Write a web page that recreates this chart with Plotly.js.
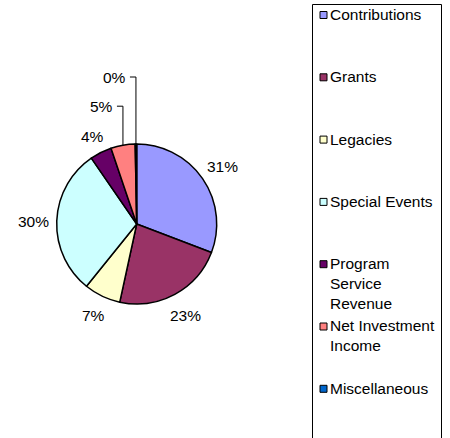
<!DOCTYPE html>
<html>
<head>
<meta charset="utf-8">
<script src="https://cdn.plot.ly/plotly-3.0.1.min.js"></script>
<style>html,body{margin:0;padding:0;background:#fff;}#chart{width:450px;height:438px;}</style>
</head>
<body>
<div id="chart"></div>
<script>
// ---- data ----
const labels = ['Contributions', 'Grants', 'Legacies', 'Special Events', 'Program Service Revenue', 'Net Investment Income', 'Miscellaneous'];
const values = [30.8, 22.6, 7.4, 29.6, 4.4, 4.9, 0.3];
const legendText = ['Contributions', 'Grants', 'Legacies', 'Special Events', 'Program<br>Service<br>Revenue', 'Net Investment<br>Income', 'Miscellaneous'];
const colors = ['#9999FF', '#993366', '#FFFFCC', '#CCFFFF', '#660066', '#FF8080', '#0066CC'];

// ---- layout config ----
const W = 450, H = 438;
const FONT = 'Liberation Sans, Arial, sans-serif';
const FS = 15.5;
const cx = 136.7, cy = 224, R = 80;
const lifted = {5: 39, 6: 67}; // leader-line label lift above slice edge (px)
const px = x => x / W;
const py = y => 1 - y / H;

const total = values.reduce((a, b) => a + b, 0);
const pct = values.map(v => Math.round(v / total * 100) + '%');

const annotations = [];
const shapes = [];

// slice labels
let cum = 0;
values.forEach((v, i) => {
  const mid = (cum + v / 2) / total * 2 * Math.PI;
  cum += v;
  const s = Math.sin(mid), c = Math.cos(mid);
  const txt = pct[i];
  const halfW = ((txt.length - 1) * 0.556 + 0.889) * FS / 2;
  const halfH = FS * 0.55;
  if (lifted[i] !== undefined) {
    const ex = cx + R * s, ey = cy - R * c;
    const ly = ey - lifted[i];
    shapes.push({type: 'path', xref: 'paper', yref: 'paper',
      path: `M ${px(ex)} ${py(ey)} L ${px(ex)} ${py(ly)} L ${px(ex - 6)} ${py(ly)}`,
      line: {color: '#000', width: 1}});
    annotations.push({xref: 'paper', yref: 'paper', x: px(ex - 8), y: py(ly + 0.5),
      xanchor: 'right', yanchor: 'middle', text: txt, showarrow: false,
      font: {family: FONT, size: FS, color: '#000'}});
  } else {
    const d = R + 7 + halfW * Math.abs(s) + halfH * Math.abs(c);
    annotations.push({xref: 'paper', yref: 'paper', x: px(cx + d * s), y: py(cy - d * c + 1.5),
      xanchor: 'center', yanchor: 'middle', text: txt, showarrow: false,
      font: {family: FONT, size: FS, color: '#000'}});
  }
});

// legend box
shapes.push({type: 'rect', xref: 'paper', yref: 'paper',
  x0: px(312.5), x1: px(441.5), y0: py(4.5), y1: py(445),
  line: {color: '#000', width: 1}, fillcolor: 'rgba(0,0,0,0)'});
labels.forEach((lab, i) => {
  const yc = 15 + i * 62.3;
  shapes.push({type: 'rect', xref: 'paper', yref: 'paper',
    x0: px(320), x1: px(327), y0: py(yc - 3.5), y1: py(yc + 3.5),
    fillcolor: colors[i], line: {color: '#000', width: 1}});
  annotations.push({xref: 'paper', yref: 'paper', x: px(327.5), y: py(yc - FS * 0.65 - 1),
    xanchor: 'left', yanchor: 'top', align: 'left', text: legendText[i], showarrow: false,
    font: {family: FONT, size: FS, color: '#000'}});
});

const trace = {
  type: 'pie',
  labels: labels,
  values: values,
  sort: false,
  direction: 'clockwise',
  rotation: 0,
  textinfo: 'none',
  hoverinfo: 'label+percent',
  marker: {colors: colors, line: {color: '#000', width: 1.5}},
  domain: {x: [px(cx - R), px(cx + R)], y: [py(cy + R), py(cy - R)]},
  showlegend: false
};

const layout = {
  width: W, height: H,
  margin: {l: 0, r: 0, t: 0, b: 0},
  paper_bgcolor: '#fff',
  showlegend: false,
  font: {family: FONT, size: FS, color: '#000'},
  annotations: annotations,
  shapes: shapes
};

Plotly.newPlot('chart', [trace], layout, {displayModeBar: false, staticPlot: true});
</script>
</body>
</html>
